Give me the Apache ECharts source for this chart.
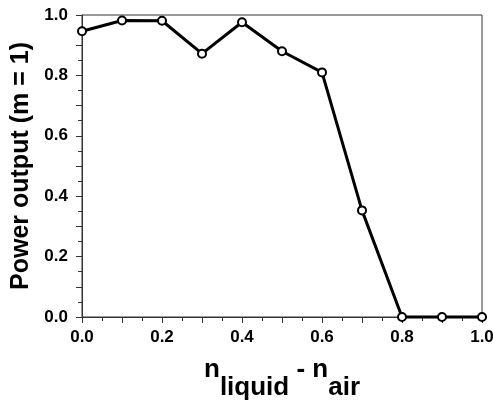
<!DOCTYPE html>
<html>
<head>
<meta charset="utf-8">
<script src="https://cdn.jsdelivr.net/npm/echarts@6/dist/echarts.min.js"></script>
<style>
  html, body { margin: 0; padding: 0; background: #fff; }
  #chart { width: 493px; height: 400px; }
</style>
</head>
<body>
<div id="chart"></div>
<script>
var deltaN = [0.0, 0.1, 0.2, 0.3, 0.4, 0.5, 0.6, 0.7, 0.8, 0.9, 1.0];
var power = [0.946, 0.982, 0.981, 0.872, 0.976, 0.880, 0.810, 0.353, 0.0, 0.0, 0.0];
var xTickLabels = ['0.0', '0.2', '0.4', '0.6', '0.8', '1.0'];
var yTickLabels = ['0.0', '0.2', '0.4', '0.6', '0.8', '1.0'];

var FONT = '"Liberation Sans", Arial, sans-serif';

var mychart = echarts.init(document.getElementById('chart'));

function tickFmt(list) {
    return function (v) {
        var s = v.toFixed(1);
        return list.indexOf(s) >= 0 ? s : '';
    };
}

var axisCommon = {
    axisLine: {lineStyle: {color: '#333', width: 1}},
    axisTick: {show: true, inside: false, length: 6, lineStyle: {color: '#333', width: 1}},
    minorTick: {show: true, splitNumber: 2, length: 4, lineStyle: {color: '#333', width: 1}},
    splitLine: {show: false},
    minorSplitLine: {show: false}
};

var option = {
    animation: false,
    grid: {
        left: 82, right: 11, top: 15, bottom: 83,
        outerBoundsMode: 'none',
        containLabel: false,
        show: true, borderColor: '#333', borderWidth: 1, backgroundColor: 'transparent'
    },
    xAxis: Object.assign({
        type: 'value',
        min: 0, max: 1, interval: 0.1,
        axisLabel: {
            formatter: tickFmt(xTickLabels),
            color: '#000', fontFamily: FONT, fontWeight: 'bold', fontSize: 17, margin: 12
        },
        name: '{n|n}{s|liquid}{n| - n}{s|air}',
        nameLocation: 'middle',
        nameGap: 40,
        nameTextStyle: {
            rich: {
                n: {fontFamily: FONT, fontWeight: 'bold', fontSize: 26, color: '#000', lineHeight: 26, verticalAlign: 'top'},
                s: {fontFamily: FONT, fontWeight: 'bold', fontSize: 26, color: '#000', lineHeight: 62}
            }
        }
    }, axisCommon),
    yAxis: Object.assign({
        type: 'value',
        min: 0, max: 1, interval: 0.1,
        axisLabel: {
            formatter: tickFmt(yTickLabels),
            color: '#000', fontFamily: FONT, fontWeight: 'bold', fontSize: 17, margin: 14
        },
        name: 'Power output (m = 1)',
        nameLocation: 'middle',
        nameGap: 46,
        nameTextStyle: {fontFamily: FONT, fontWeight: 'bold', fontSize: 25, color: '#000'}
    }, axisCommon),
    series: [
        {
            type: 'line',
            data: deltaN.map(function (x, i) { return [x, power[i]]; }),
            clip: false,
            symbol: 'emptyCircle',
            symbolSize: 8,
            lineStyle: {color: '#000', width: 3},
            itemStyle: {color: '#000', borderColor: '#000', borderWidth: 3}
        }
    ]
};

mychart.setOption(option);
</script>
</body>
</html>
